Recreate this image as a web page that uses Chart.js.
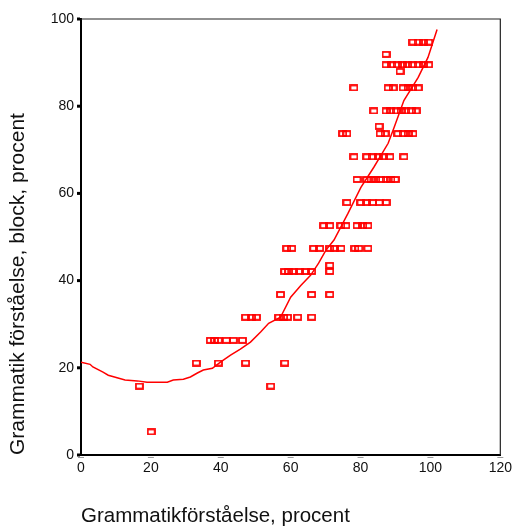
<!DOCTYPE html>
<html>
<head>
<meta charset="utf-8">
<script src="https://cdn.jsdelivr.net/npm/chart.js@4/dist/chart.umd.min.js"></script>
<style>
html,body{margin:0;padding:0;background:#fff;}
#wrap{width:513px;height:526px;position:relative;}
</style>
</head>
<body>
<div id="wrap"><canvas id="c" width="513" height="526"></canvas></div>
<script>
// Scatter points: x = Grammatikförståelse (%), y = Grammatik förståelse, block (%)
const pointsX = [
  95.0, 96.5, 98.0, 99.5,
  87.3, 89.0, 90.5, 92.0, 93.5, 95.0, 96.5, 98.0, 99.5,
  91.3,
  87.3,
  78.1, 87.9, 89.3, 92.2, 93.6, 95.0, 96.5,
  83.8, 87.3, 88.7, 90.2, 91.6, 93.0, 94.5, 95.9,
  85.3,
  74.9, 76.1, 85.6, 87.0, 90.7, 92.2, 93.6, 95.0,
  78.1, 81.8, 83.3, 85.0, 86.7, 88.4, 92.4,
  79.0, 81.8, 83.0, 84.4, 85.8, 87.3, 88.7, 89.9,
  76.1, 80.1, 81.8, 83.5, 85.3, 87.3,
  69.5, 71.2, 74.4, 75.8, 79.0, 80.7, 82.1,
  58.9, 60.3, 66.6, 68.3, 71.2, 72.6, 74.4, 78.4, 79.5, 82.1,
  58.3, 59.4, 60.9, 62.6, 64.3, 66.0, 71.2,
  71.2,
  57.1, 66.0, 71.2,
  47.1, 48.8, 50.2, 56.6, 58.0, 59.1, 62.0, 66.0,
  37.0, 38.2, 39.3, 41.6, 43.6, 46.2,
  33.0, 39.3, 47.1, 58.3,
  16.7, 54.3,
  20.1
];
const pointsY = [
  94.7, 94.7, 94.7, 94.7,
  89.5, 89.5, 89.5, 89.5, 89.5, 89.5, 89.5, 89.5, 89.5,
  88.0,
  91.9,
  84.2, 84.2, 84.2, 84.2, 84.2, 84.2, 84.2,
  78.9, 78.9, 78.9, 78.9, 78.9, 78.9, 78.9, 78.9,
  75.4,
  73.7, 73.7, 73.7, 73.7, 73.7, 73.7, 73.7, 73.7,
  68.4, 68.4, 68.4, 68.4, 68.4, 68.4, 68.4,
  63.2, 63.2, 63.2, 63.2, 63.2, 63.2, 63.2, 63.2,
  57.9, 57.9, 57.9, 57.9, 57.9, 57.9,
  52.6, 52.6, 52.6, 52.6, 52.6, 52.6, 52.6,
  47.4, 47.4, 47.4, 47.4, 47.4, 47.4, 47.4, 47.4, 47.4, 47.4,
  42.1, 42.1, 42.1, 42.1, 42.1, 42.1, 42.1,
  43.5,
  36.8, 36.8, 36.8,
  31.6, 31.6, 31.6, 31.6, 31.6, 31.6, 31.6, 31.6,
  26.3, 26.3, 26.3, 26.3, 26.3, 26.3,
  21.1, 21.1, 21.1, 21.1,
  15.8, 15.8,
  5.3
];
// Fit curve (loess-like)
const fitX = [0, 2.6, 3.4, 6.3, 7.8, 12.6, 16.1, 18.9, 24.7, 26.4, 29.3, 31.3, 33.3, 35.0, 37.6, 39.9, 42.8, 45.6, 48.5, 51.4, 53.7, 57.1, 60.0, 62.9, 65.7, 68.0, 70.1, 72.4, 76.4, 80.1, 83.8, 87.9, 89.6, 92.4, 96.5, 99.3, 101.9];
const fitY = [21.3, 20.8, 20.2, 19.0, 18.3, 17.2, 17.0, 16.7, 16.7, 17.2, 17.4, 17.9, 18.8, 19.5, 19.9, 21.3, 22.9, 24.3, 25.9, 28.2, 30.2, 31.6, 36.2, 38.9, 41.2, 44.0, 47.0, 49.3, 55.4, 61.4, 66.0, 71.5, 75.1, 81.3, 86.6, 91.2, 97.6];
const xTicks = [0, 20, 40, 60, 80, 100, 120];
const yTicks = [0, 20, 40, 60, 80, 100];
const xTitle = 'Grammatikförståelse, procent';
const yTitle = 'Grammatik förståelse, block, procent';

const RED = '#ff0000';
const FONT = '"Liberation Sans", Arial, sans-serif';

// hollow rectangle marker
const marker = document.createElement('canvas');
marker.width = 9; marker.height = 7;
(function(){
  const m = marker.getContext('2d');
  m.strokeStyle = RED; m.lineWidth = 1.8;
  m.strokeRect(1, 1, 7, 5);
})();

const scatterData = pointsX.map((x, i) => ({x: x, y: pointsY[i]}));
const fitData = fitX.map((x, i) => ({x: x, y: fitY[i]}));

const framePlugin = {
  id: 'frame',
  afterDraw(chart) {
    const {ctx, chartArea: a, scales} = chart;
    ctx.save();
    ctx.strokeStyle = '#222';
    ctx.lineWidth = 1.2;
    ctx.beginPath();
    ctx.moveTo(a.left, a.top); ctx.lineTo(a.right, a.top); ctx.lineTo(a.right, a.bottom);
    ctx.stroke();
    ctx.strokeStyle = '#999';
    ctx.lineWidth = 1;
    xTicks.forEach(v => {
      const px = scales.x.getPixelForValue(v);
      ctx.beginPath();
      ctx.moveTo(px - 3, a.bottom + 2.5); ctx.lineTo(px + 3, a.bottom + 2.5);
      ctx.stroke();
    });
    ctx.fillStyle = '#000';
    yTicks.forEach(v => {
      const py = scales.y.getPixelForValue(v);
      ctx.fillRect(a.left - 4, py - 1.5, 3, 3);
    });
    ctx.restore();
  }
};

new Chart(document.getElementById('c'), {
  type: 'scatter',
  data: {
    datasets: [
      {
        type: 'line',
        data: fitData,
        borderColor: RED,
        borderWidth: 1.5,
        pointRadius: 0,
        fill: false,
        tension: 0,
        order: 1
      },
      {
        data: scatterData,
        pointStyle: marker,
        pointRadius: 4,
        borderColor: RED,
        backgroundColor: 'rgba(0,0,0,0)',
        order: 2
      }
    ]
  },
  options: {
    responsive: false,
    animation: false,
    events: [],
    layout: {padding: {top: 19, right: 4, bottom: 0, left: 0}},
    plugins: {legend: {display: false}, tooltip: {enabled: false}},
    scales: {
      x: {
        type: 'linear', min: 0, max: 120,
        afterBuildTicks: s => { s.ticks = xTicks.map(v => ({value: v})); },
        ticks: {color: '#111', font: {family: FONT, size: 14}, padding: 1, maxRotation: 0},
        grid: {display: true, drawOnChartArea: false, drawTicks: true, tickLength: 4, tickColor: 'rgba(0,0,0,0)'},
        border: {display: true, color: '#000', width: 2},
        title: {display: true, text: xTitle, align: 'start', color: '#111', font: {family: FONT, size: 20.5}, padding: {top: 0, bottom: -3}},
        afterFit: s => { s.height = 71; }
      },
      y: {
        type: 'linear', min: 0, max: 100,
        afterBuildTicks: s => { s.ticks = yTicks.map(v => ({value: v})); },
        ticks: {color: '#111', font: {family: FONT, size: 14}, padding: 3},
        grid: {display: true, drawOnChartArea: false, drawTicks: true, tickLength: 4, tickColor: 'rgba(0,0,0,0)'},
        border: {display: true, color: '#000', width: 2},
        title: {display: true, text: yTitle, align: 'start', color: '#111', font: {family: FONT, size: 21}, padding: {top: 6, bottom: 0}},
        afterFit: s => { s.width = 81; }
      }
    }
  },
  plugins: [framePlugin]
});
</script>
</body>
</html>
